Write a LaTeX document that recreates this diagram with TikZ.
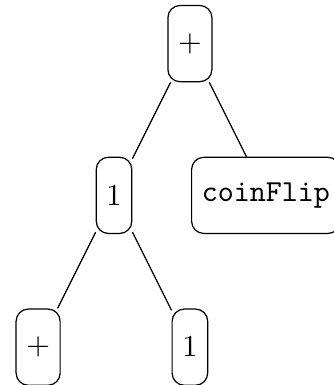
\documentclass[tikz,border=0pt]{standalone}
\usepackage{tikz}
\usetikzlibrary{positioning}

\begin{document}
\begin{tikzpicture}[x=1.75cm,y=1.75cm,
  term/.style={draw,rounded corners,minimum height=25pt}]
\useasboundingbox (-62.3pt,14.3pt) rectangle (47.2pt,-112pt);

\node[term] (plus) at (0,0) {$+$};
\node[term] (one) at (-0.5,-1) {$1$};
\node[term] (coin) at (0.5,-1) {\texttt{coinFlip}};
\node[term] (plusl) at (-1,-2) {$+$};
\node[term] (oner) at (0,-2) {$1$};

% edges of the term tree
\draw (plus) -- (one);
\draw (plus) -- (coin);
\draw (one) -- (plusl);
\draw (one) -- (oner);
\end{tikzpicture}
\end{document}
